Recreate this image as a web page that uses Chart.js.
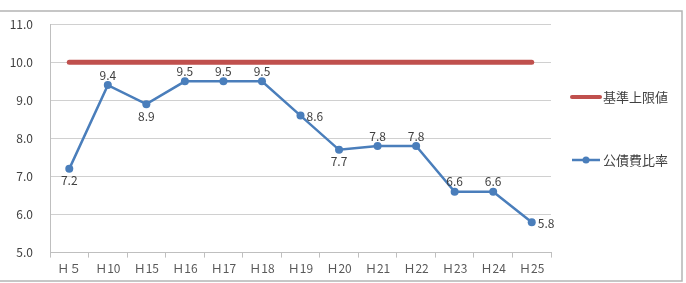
<!DOCTYPE html>
<html>
<head>
<meta charset="utf-8">
<script src="https://cdn.jsdelivr.net/npm/chart.js@4"></script>
<style>
  body { margin: 0; background: #fff; }
  #wrap { width: 686px; height: 283px; }
</style>
</head>
<body>
<div id="wrap"><canvas id="ratioChart" width="686" height="283"></canvas></div>
<script>
const years = ['Ｈ５', 'Ｈ10', 'Ｈ15', 'Ｈ16', 'Ｈ17', 'Ｈ18', 'Ｈ19', 'Ｈ20', 'Ｈ21', 'Ｈ22', 'Ｈ23', 'Ｈ24', 'Ｈ25'];
const upperLimit = [10, 10, 10, 10, 10, 10, 10, 10, 10, 10, 10, 10, 10];
const debtRatio = [7.2, 9.4, 8.9, 9.5, 9.5, 9.5, 8.6, 7.7, 7.8, 7.8, 6.6, 6.6, 5.8];

const labelSide = ['below', 'above', 'below', 'above', 'above', 'above', 'right', 'below', 'above', 'above', 'above', 'above', 'right'];
const fontName = "'Noto Sans CJK JP', 'Noto Sans', sans-serif";

// frame around the whole chart
const framePlugin = {
  id: 'frame',
  beforeDraw(chart) {
    const c = chart.ctx;
    c.save();
    c.strokeStyle = '#b4b4b4';
    c.lineWidth = 1.5;
    c.strokeRect(-2, 11, 684, 270);
    c.restore();
  }
};

// value labels on the ratio line
const valueLabels = {
  id: 'valueLabels',
  afterDatasetsDraw(chart) {
    const c = chart.ctx;
    const meta = chart.getDatasetMeta(1);
    c.save();
    c.font = '12px ' + fontName;
    c.fillStyle = '#404040';
    meta.data.forEach((pt, i) => {
      const txt = debtRatio[i].toFixed(1);
      const side = labelSide[i];
      if (side === 'right') {
        c.textAlign = 'left';
        c.textBaseline = 'middle';
        c.fillText(txt, pt.x + 6, pt.y + 1);
      } else if (side === 'above') {
        c.textAlign = 'center';
        c.textBaseline = 'bottom';
        c.fillText(txt, pt.x, pt.y - 4);
      } else {
        c.textAlign = 'center';
        c.textBaseline = 'top';
        c.fillText(txt, pt.x, pt.y + 6);
      }
    });
    c.restore();
  }
};

// legend on the right side
const sideLegend = {
  id: 'sideLegend',
  afterDraw(chart) {
    const c = chart.ctx;
    const ds = chart.data.datasets;
    c.save();
    c.font = '13px ' + fontName;
    c.fillStyle = '#404040';
    c.textBaseline = 'middle';
    c.textAlign = 'left';
    // 基準上限値
    c.strokeStyle = ds[0].borderColor;
    c.lineWidth = 4;
    c.lineCap = 'round';
    c.beginPath();
    c.moveTo(572, 97);
    c.lineTo(600, 97);
    c.stroke();
    c.fillText(ds[0].label, 603, 97);
    // 公債費比率
    c.strokeStyle = ds[1].borderColor;
    c.lineWidth = 2.5;
    c.lineCap = 'butt';
    c.beginPath();
    c.moveTo(572, 160);
    c.lineTo(600, 160);
    c.stroke();
    c.fillStyle = ds[1].borderColor;
    c.beginPath();
    c.arc(586, 160, 3.5, 0, Math.PI * 2);
    c.fill();
    c.fillStyle = '#404040';
    c.fillText(ds[1].label, 603, 160);
    c.restore();
  }
};

new Chart(document.getElementById('ratioChart'), {
  type: 'line',
  data: {
    labels: years,
    datasets: [{
      label: '基準上限値',
      data: upperLimit,
      borderColor: '#C0504D',
      borderWidth: 5,
      borderCapStyle: 'round',
      pointRadius: 0,
      pointHoverRadius: 0
    }, {
      label: '公債費比率',
      data: debtRatio,
      borderColor: '#4A7EBB',
      backgroundColor: '#4A7EBB',
      borderWidth: 2.5,
      pointRadius: 4,
      pointBorderWidth: 0,
      tension: 0
    }]
  },
  options: {
    responsive: false,
    animation: false,
    layout: { padding: { top: 16, right: 135, bottom: 3, left: 0 } },
    plugins: {
      legend: { display: false },
      tooltip: { enabled: false }
    },
    scales: {
      x: {
        offset: true,
        grid: {
          offset: true,
          drawOnChartArea: false,
          color: '#bfbfbf',
          tickLength: 5
        },
        border: { color: '#bfbfbf' },
        ticks: {
          color: '#595959',
          font: { family: fontName, size: 12 },
          padding: 4,
          maxRotation: 0,
          autoSkip: false
        }
      },
      y: {
        min: 5,
        max: 11,
        afterFit(scale) { scale.width = 50; },
        grid: {
          color: '#d0d0d0',
          drawTicks: false
        },
        border: { color: '#bfbfbf' },
        ticks: {
          stepSize: 1,
          color: '#404040',
          font: { family: fontName, size: 12 },
          padding: 17,
          callback: v => v.toFixed(1)
        }
      }
    }
  },
  plugins: [framePlugin, valueLabels, sideLegend]
});
</script>
</body>
</html>
